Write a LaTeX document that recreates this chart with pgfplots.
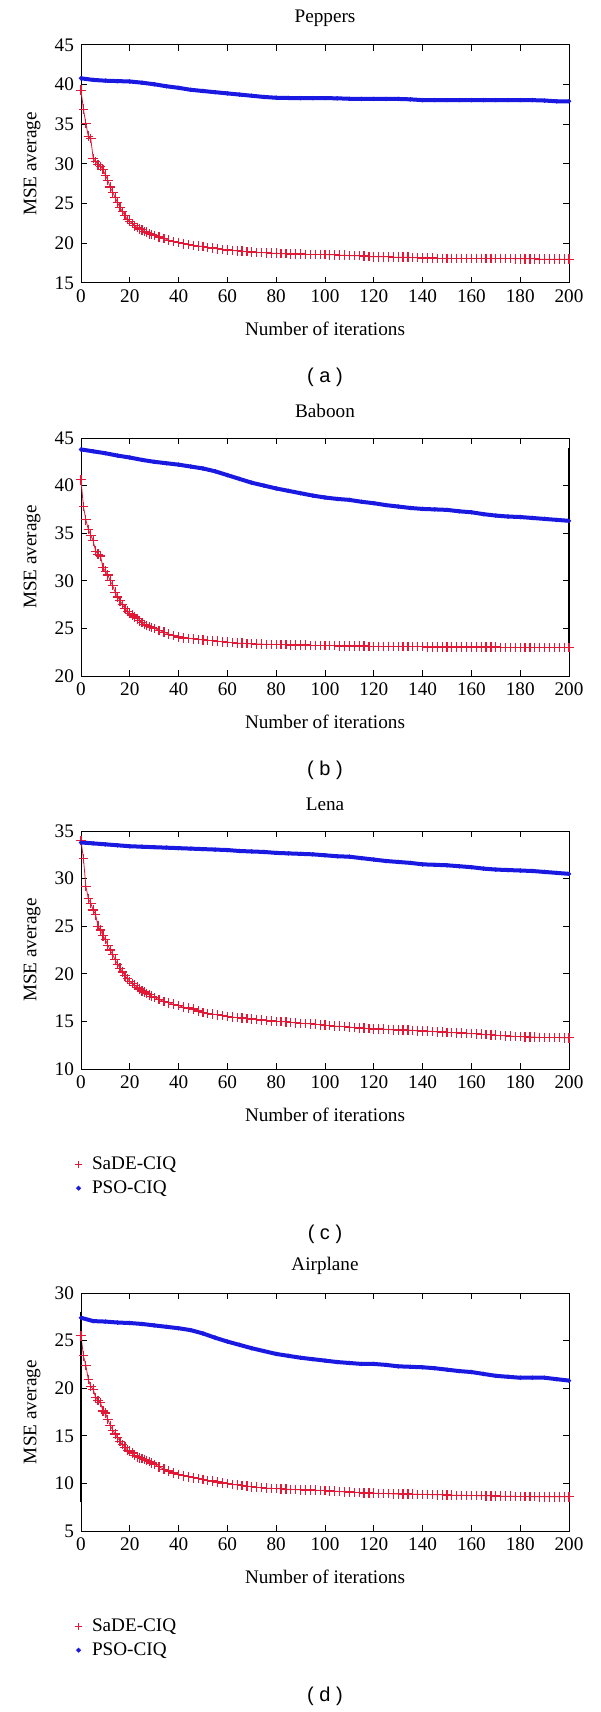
\documentclass[border=0pt]{standalone}
\usepackage{fontspec}
\setmainfont{Liberation Serif}
\newfontfamily\sansf{Liberation Sans}
\usepackage{pgfplots}
\usepackage{pgfplotstable}
\pgfplotsset{compat=1.18}
\definecolor{sadered}{RGB}{225,25,55}
\definecolor{psoblue}{RGB}{25,25,225}

\pgfplotstableread{
x A B C D
0 39.3 40.6 34.0 25.5
1 36.9 37.8 32.1 23.4
2 35.1 36.4 29.2 22.4
3 33.5 35.4 27.9 20.9
4 33.2 34.8 27.4 20.2
5 30.7 34.2 26.7 19.9
6 30.3 33.1 26.2 19.0
7 29.9 32.8 25.0 18.7
8 29.7 32.6 24.6 18.5
9 29.3 31.4 24.0 17.6
10 28.6 31.0 23.6 17.4
11 27.9 30.6 23.0 16.7
12 27.1 30.0 22.5 16.1
13 26.4 29.5 22.0 15.6
14 25.8 28.8 21.5 15.2
15 25.1 28.3 21.0 14.8
16 24.5 27.9 20.6 14.4
17 24.0 27.5 20.2 14.1
18 23.5 27.1 19.8 13.8
19 23.0 26.8 19.5 13.5
20 22.8 26.6 19.2 13.4
21 22.5 26.4 19.0 13.2
22 22.2 26.2 18.8 12.95
23 22.0 26.0 18.6 12.8
24 21.8 25.8 18.4 12.7
25 21.7 25.6 18.2 12.6
26 21.5 25.4 18.1 12.5
27 21.4 25.3 17.95 12.4
28 21.2 25.2 17.8 12.3
29 21.1 25.1 17.65 12.15
30 21.0 25.0 17.5 12.0
32 20.8 24.8 17.3 11.75
34 20.6 24.6 17.1 11.5
36 20.4 24.4 16.95 11.3
38 20.25 24.25 16.8 11.1
40 20.1 24.1 16.65 10.95
42 19.95 24.0 16.5 10.8
44 19.85 23.95 16.4 10.7
46 19.75 23.9 16.3 10.6
48 19.65 23.85 16.1 10.5
50 19.6 23.8 15.95 10.4
52 19.5 23.75 15.85 10.3
54 19.4 23.7 15.75 10.25
56 19.3 23.65 15.7 10.15
58 19.2 23.6 15.6 10.05
60 19.15 23.55 15.5 10.0
62 19.1 23.5 15.45 9.9
64 19.05 23.45 15.4 9.85
66 19.0 23.45 15.35 9.8
68 18.95 23.4 15.3 9.7
70 18.9 23.4 15.25 9.65
72 18.85 23.35 15.2 9.6
74 18.85 23.35 15.15 9.55
76 18.8 23.3 15.1 9.5
78 18.75 23.3 15.05 9.48
80 18.75 23.3 15.0 9.45
82 18.7 23.3 14.98 9.43
84 18.7 23.3 14.95 9.4
86 18.65 23.25 14.9 9.38
88 18.65 23.25 14.85 9.35
90 18.65 23.25 14.8 9.33
92 18.6 23.25 14.78 9.3
94 18.6 23.2 14.75 9.3
96 18.6 23.2 14.7 9.28
98 18.6 23.2 14.65 9.27
100 18.6 23.2 14.6 9.25
102 18.55 23.2 14.55 9.2
104 18.55 23.2 14.5 9.18
106 18.5 23.15 14.5 9.15
108 18.5 23.15 14.45 9.12
110 18.45 23.15 14.4 9.1
112 18.45 23.15 14.35 9.05
114 18.45 23.15 14.3 9.03
116 18.4 23.15 14.28 9.0
118 18.35 23.1 14.25 9.0
120 18.3 23.1 14.2 8.98
122 18.3 23.1 14.2 8.95
124 18.3 23.1 14.18 8.95
126 18.3 23.1 14.15 8.92
128 18.25 23.1 14.12 8.9
130 18.25 23.1 14.1 8.9
132 18.25 23.1 14.1 8.88
134 18.25 23.1 14.08 8.88
136 18.2 23.1 14.05 8.86
138 18.2 23.1 14.02 8.85
140 18.15 23.1 14.0 8.85
142 18.15 23.05 13.98 8.83
144 18.15 23.05 13.95 8.82
146 18.1 23.05 13.9 8.8
148 18.1 23.05 13.88 8.8
150 18.1 23.05 13.85 8.78
152 18.1 23.05 13.82 8.76
154 18.1 23.05 13.8 8.75
156 18.1 23.05 13.78 8.75
158 18.1 23.05 13.75 8.74
160 18.1 23.05 13.72 8.73
162 18.1 23.05 13.7 8.72
164 18.1 23.05 13.65 8.72
166 18.1 23.05 13.62 8.7
168 18.1 23.05 13.6 8.7
170 18.1 23.05 13.55 8.68
172 18.1 23.0 13.5 8.66
174 18.1 23.0 13.48 8.65
176 18.1 23.0 13.45 8.65
178 18.05 23.0 13.42 8.64
180 18.05 23.0 13.4 8.63
182 18.05 23.0 13.38 8.62
184 18.05 23.0 13.35 8.62
186 18.05 23.0 13.35 8.61
188 18.0 23.0 13.32 8.6
190 18.0 23.0 13.3 8.6
192 18.0 23.0 13.3 8.6
194 18.0 23.0 13.3 8.6
196 18.0 23.0 13.3 8.6
198 18.0 23.0 13.28 8.6
200 18.0 23.0 13.28 8.6
}\redtab

\pgfplotstableread{
x A B C D
0 40.8 43.8 33.8 27.4
5 40.6 43.6 33.7 27.05
10 40.5 43.4 33.6 27.0
15 40.45 43.15 33.5 26.9
20 40.4 42.95 33.4 26.85
25 40.25 42.7 33.35 26.75
30 40.05 42.5 33.3 26.6
35 39.8 42.35 33.25 26.45
40 39.6 42.2 33.2 26.3
45 39.35 42.0 33.15 26.1
50 39.2 41.8 33.1 25.75
55 39.05 41.5 33.05 25.3
60 38.9 41.1 33.0 24.9
65 38.75 40.7 32.9 24.55
70 38.6 40.3 32.85 24.2
75 38.45 40.0 32.8 23.9
80 38.35 39.7 32.7 23.6
85 38.32 39.45 32.65 23.4
90 38.3 39.2 32.6 23.2
95 38.3 38.95 32.55 23.05
100 38.3 38.75 32.45 22.9
105 38.28 38.6 32.35 22.75
110 38.22 38.5 32.3 22.65
115 38.2 38.3 32.15 22.55
120 38.2 38.15 32.0 22.55
125 38.2 37.95 31.85 22.45
130 38.2 37.8 31.75 22.3
135 38.15 37.65 31.65 22.25
140 38.05 37.55 31.5 22.2
145 38.05 37.5 31.45 22.1
150 38.05 37.45 31.4 21.95
155 38.05 37.3 31.3 21.8
160 38.05 37.2 31.2 21.7
165 38.05 37.0 31.05 21.5
170 38.05 36.85 30.95 21.3
175 38.05 36.75 30.9 21.2
180 38.05 36.7 30.85 21.1
185 38.05 36.6 30.8 21.1
190 38.0 36.5 30.7 21.1
195 37.9 36.4 30.6 20.95
200 37.9 36.3 30.5 20.8
}\bluetab

\pgfplotsset{
  panel/.style={
    scale only axis, width=244pt, height=119pt,
    anchor=north west,
    xmin=0, xmax=200, xtick={0,20,...,200},
    tick align=inside, major tick length=3pt,
    axis line style={line width=0.5pt},
    tick style={line width=0.5pt, black},
    clip=false,
    /pgf/number format/assume math mode=true,
    ticklabel style={font=\fontsize{9.6}{11}\selectfont},
    label style={font=\fontsize{9.6}{11}\selectfont},
    title style={font=\fontsize{9.6}{11}\selectfont, at={(axis description cs:0.5,1.063)}, anchor=center},
    xlabel={Number of iterations}, ylabel={MSE average},
    xlabel style={at={(axis description cs:0.5,-0.193)}, anchor=center},
    ylabel style={at={(axis description cs:-0.1,0.5)}, anchor=center},
    legend image code/.code={\draw[##1, mark options={line width=0.5pt, scale=1}] plot coordinates {(0pt,0pt)};},
    legend style={at={(axis description cs:-0.025,-0.333)}, anchor=north west,
      draw=none, fill=none, font=\fontsize{9.6}{11}\selectfont,
      legend cell align=left,
      /tikz/every odd column/.append style={column sep=3pt}},
  },
  sade/.style={color=sadered, line width=0.4pt, mark=+, mark size=1.7pt, mark options={line width=0.6pt, scale=1.41}},
  pso/.style={color=psoblue, line width=2.0pt, mark=*, mark size=0.95pt, mark options={line width=0.3pt, fill=psoblue}},
}

\begin{document}
\begin{tikzpicture}
\path[use as bounding box] (0,0) rectangle (300pt,-856pt);

\begin{axis}[panel, at={(40.5pt,-22.5pt)}, title={Peppers}, ymin=15, ymax=45, ytick={15,20,...,45}]
\addplot[sade] table[x=x, y=A] {\redtab};
\addplot[pso] table[x=x, y=A] {\bluetab};
\node[font=\sansf\fontsize{10}{12}\selectfont] at (axis description cs:0.5,-0.395) {( a )};
\end{axis}

\begin{axis}[panel, at={(40.5pt,-219pt)}, title={Baboon}, ymin=20, ymax=45, ytick={20,25,...,45}]
\addplot[sade] table[x=x, y=B] {\redtab};
\addplot[pso] table[x=x, y=B] {\bluetab};
\addplot[black, line width=1.1pt, forget plot] coordinates {(200,22.6) (200,44)};
\node[font=\sansf\fontsize{10}{12}\selectfont] at (axis description cs:0.5,-0.395) {( b )};
\end{axis}

\begin{axis}[panel, at={(40.5pt,-415.5pt)}, title={Lena}, ymin=10, ymax=35, ytick={10,15,...,35}]
\addplot[sade] table[x=x, y=C] {\redtab};
\addlegendentry{SaDE-CIQ}
\addplot[pso] table[x=x, y=C] {\bluetab};
\addlegendentry{PSO-CIQ}
\node[font=\sansf\fontsize{10}{12}\selectfont] at (axis description cs:0.5,-0.693) {( c )};
\end{axis}

\begin{axis}[panel, at={(40.5pt,-646.5pt)}, title={Airplane}, ymin=5, ymax=30, ytick={5,10,...,30}]
\addplot[sade] table[x=x, y=D] {\redtab};
\addlegendentry{SaDE-CIQ}
\addplot[pso] table[x=x, y=D] {\bluetab};
\addlegendentry{PSO-CIQ}
\addplot[black, line width=1.1pt, forget plot] coordinates {(0,8) (0,28)};
\node[font=\sansf\fontsize{10}{12}\selectfont] at (axis description cs:0.5,-0.693) {( d )};
\end{axis}
\end{tikzpicture}
\end{document}
